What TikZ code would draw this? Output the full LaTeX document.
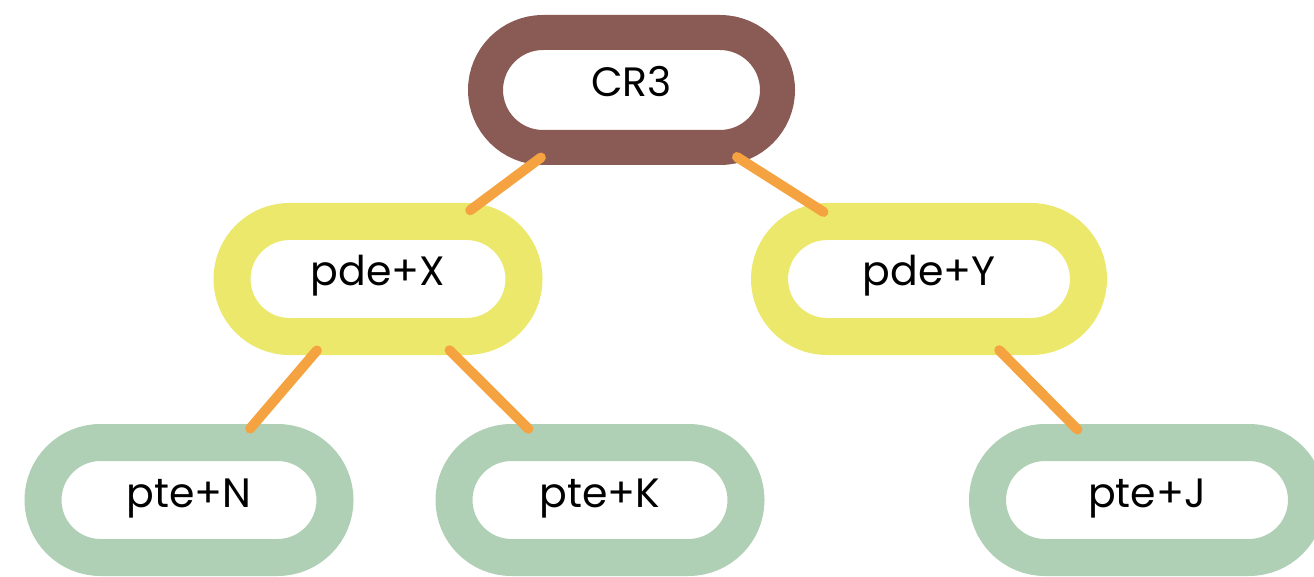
\documentclass[tikz,border=0pt]{standalone}
\usepackage{fontspec}
\setmainfont{Poppins}
\usetikzlibrary{calc}
\definecolor{cbrown}{HTML}{8A5A54}
\definecolor{cyellow}{HTML}{EBE86C}
\definecolor{cgreen}{HTML}{B0D0B5}
\definecolor{corange}{HTML}{F4A340}
\tikzset{
  pill/.style={draw=#1, fill=white, rectangle, rounded corners=57.5pt,
    minimum height=115pt, minimum width=292pt, line width=37pt,
    inner sep=0pt, outer sep=0pt, text height=24pt, text depth=10pt,
    font=\fontsize{41}{48}\selectfont},
  widepill/.style={pill=#1, minimum width=319pt},
  conn/.style={draw=corange, line width=10pt, line cap=round}
}
\begin{document}
\begin{tikzpicture}[x=1pt,y=-1pt]
\useasboundingbox (0,0) rectangle (1314,577);
\clip (0,0) rectangle (1314,577);
\node[pill=cbrown, line width=35pt] (cr3) at (631.5,90) {CR3};
\node[pill=cyellow] (pdex) at (378,279) {pde+X};
\node[widepill=cyellow] (pdey) at (929,279) {pde+Y};
\node[pill=cgreen] (pten) at (189,500) {pte+N};
\node[pill=cgreen] (ptek) at (600,500) {pte+K};
\node[widepill=cgreen] (ptej) at (1147,500) {pte+J};
\draw[conn] ($(cr3)!113pt!(pdex)$) -- ($(pdex)!115pt!(cr3)$);
\draw[conn] ($(cr3)!125pt!(pdey)$) -- ($(pdey)!125pt!(cr3)$);
\draw[conn] ($(pdex)!94pt!(pten)$) -- ($(pten)!94pt!(pdex)$);
\draw[conn] ($(pdex)!101pt!(ptek)$) -- ($(ptek)!101pt!(pdex)$);
\draw[conn] ($(pdey)!100pt!(ptej)$) -- ($(ptej)!99pt!(pdey)$);
\end{tikzpicture}
\end{document}
